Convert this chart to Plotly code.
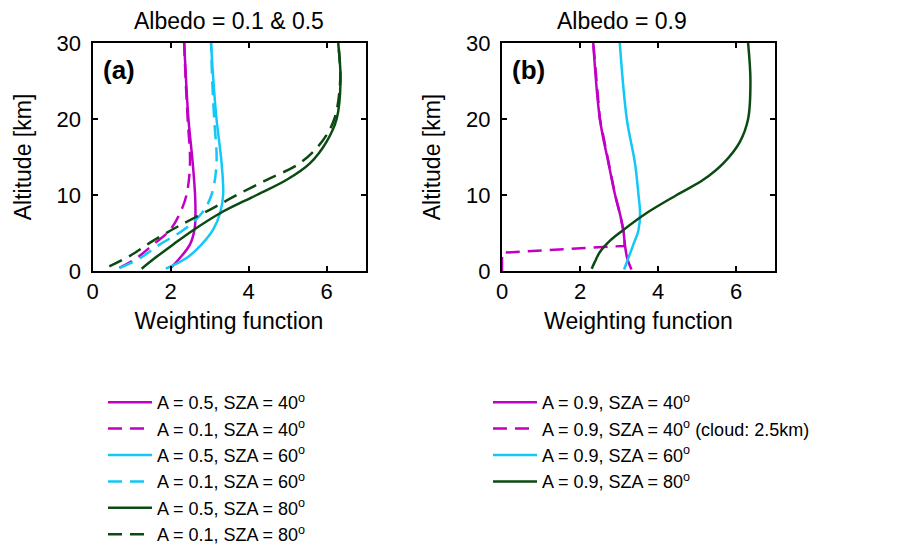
import plotly.graph_objects as go

# ---------------- data ----------------
# Panel (a): Albedo 0.1 & 0.5
alt_a05_40 = [0.3, 1.7, 3.5, 5.6, 7.6, 10, 14.2, 20, 25, 30]
wf_a05_40 = [1.99, 2.24, 2.50, 2.62, 2.64, 2.63, 2.57, 2.46, 2.40, 2.35]
alt_a01_40 = [0.4, 1.7, 3.5, 5.4, 7.6, 10, 14.2, 20, 25, 30]
wf_a01_40 = [0.69, 1.13, 1.56, 1.99, 2.24, 2.41, 2.50, 2.44, 2.39, 2.35]
alt_a05_60 = [0.3, 1.7, 3.5, 5.5, 7.6, 10, 14.2, 20, 25, 30]
wf_a05_60 = [1.88, 2.41, 2.80, 3.10, 3.27, 3.35, 3.31, 3.18, 3.10, 3.04]
alt_a01_60 = [0.4, 1.7, 3.5, 5.4, 7.6, 10, 14.2, 20, 25, 30]
wf_a01_60 = [0.70, 1.22, 1.73, 2.33, 2.80, 3.05, 3.18, 3.12, 3.07, 3.04]
alt_a05_80 = [0.3, 1.7, 3.5, 5.4, 7.6, 10, 12, 14.2, 17, 20, 25, 30]
wf_a05_80 = [1.26, 1.60, 2.07, 2.59, 3.27, 4.21, 4.98, 5.58, 6.00, 6.26, 6.36, 6.30]
alt_a01_80 = [0.6, 2, 4, 6, 8.3, 10, 12, 14.2, 17, 20, 25, 30]
wf_a01_80 = [0.43, 0.96, 1.56, 2.24, 3.10, 3.70, 4.47, 5.32, 5.88, 6.20, 6.35, 6.30]

# Panel (b): Albedo 0.9
alt_b_40 = [0.2, 1.7, 3.5, 5.4, 7.6, 10, 14.2, 20, 30]
wf_b_40 = [3.32, 3.21, 3.15, 3.11, 3.02, 2.90, 2.73, 2.51, 2.34]
alt_b_40c = [0, 2.4, 3.3, 3.5, 5.4, 7.6, 10, 14.2, 20, 30]
wf_b_40c = [0, 0, 3.12, 3.15, 3.11, 3.02, 2.90, 2.73, 2.51, 2.34]
alt_b_60 = [0.2, 1.7, 3.5, 5.4, 7.6, 10, 14.2, 20, 30]
wf_b_60 = [3.13, 3.24, 3.37, 3.50, 3.54, 3.50, 3.41, 3.20, 3.02]
alt_b_80 = [0.3, 1.2, 2.5, 4, 5.4, 7.6, 10, 12, 14.2, 17, 20, 25, 30]
wf_b_80 = [2.30, 2.38, 2.51, 2.77, 3.11, 3.70, 4.48, 5.16, 5.68, 6.10, 6.31, 6.37, 6.31]

x_ticks = [0, 2, 4, 6]
y_ticks = [0, 10, 20, 30]

MAG = "#C000C4"
CYA = "#12C8F8"
GRN = "#0B4A12"
DASH = "14px,8px"
LW = 2.5
FONT = "Liberation Sans, Arial, sans-serif"

fig = go.Figure()

def add(x, y, name, color, dash, xa, ya, legend, shape="spline"):
    fig.add_trace(go.Scatter(
        x=x, y=y, name=name, mode="lines",
        line=dict(color=color, width=LW, dash=dash, shape=shape),
        xaxis=xa, yaxis=ya, legend=legend))

add(wf_a05_40, alt_a05_40, "A = 0.5, SZA = 40<sup>o</sup>", MAG, "solid", "x", "y", "legend")
add(wf_a01_40, alt_a01_40, "A = 0.1, SZA = 40<sup>o</sup>", MAG, DASH, "x", "y", "legend")
add(wf_a05_60, alt_a05_60, "A = 0.5, SZA = 60<sup>o</sup>", CYA, "solid", "x", "y", "legend")
add(wf_a01_60, alt_a01_60, "A = 0.1, SZA = 60<sup>o</sup>", CYA, DASH, "x", "y", "legend")
add(wf_a05_80, alt_a05_80, "A = 0.5, SZA = 80<sup>o</sup>", GRN, "solid", "x", "y", "legend")
add(wf_a01_80, alt_a01_80, "A = 0.1, SZA = 80<sup>o</sup>", GRN, DASH, "x", "y", "legend")

add(wf_b_40, alt_b_40, "A = 0.9, SZA = 40<sup>o</sup>", MAG, "solid", "x2", "y2", "legend2")
add(wf_b_40c, alt_b_40c, "A = 0.9, SZA = 40<sup>o</sup> (cloud: 2.5km)", MAG, DASH, "x2", "y2", "legend2", shape="linear")
add(wf_b_60, alt_b_60, "A = 0.9, SZA = 60<sup>o</sup>", CYA, "solid", "x2", "y2", "legend2")
add(wf_b_80, alt_b_80, "A = 0.9, SZA = 80<sup>o</sup>", GRN, "solid", "x2", "y2", "legend2")

# page has an 8px body margin: work in screen pixels and convert
OFF = 8
W, H = 910 - OFF, 545 - OFF
def px(v): return (v - OFF) / W
def py(v): return (H - (v - OFF)) / H

FS = 22
TS = 23
ax_common = dict(showgrid=False, zeroline=False, showline=True, linecolor="black",
                 linewidth=2, mirror="allticks", ticks="inside", ticklen=5,
                 tickwidth=2, tickcolor="black", tickfont=dict(size=FS, color="black"),
                 automargin=False)

xa_common = dict(ax_common, range=[0, 7], tickvals=x_ticks,
                 title=dict(text="Weighting function", font=dict(size=TS, color="black"), standoff=9))
ya_common = dict(ax_common, range=[0, 30], tickvals=y_ticks, ticklabelstandoff=5,
                 title=dict(text="Altitude [km]", font=dict(size=TS, color="black"), standoff=19))

fig.update_layout(
    width=W, height=H,
    margin=dict(l=0, r=0, t=0, b=0, autoexpand=False),
    paper_bgcolor="white", plot_bgcolor="white",
    font=dict(family=FONT, size=FS, color="black"),
    xaxis=dict(xa_common, domain=[px(92.5), px(365.5)], anchor="y"),
    yaxis=dict(ya_common, domain=[py(271), py(43)], anchor="x"),
    xaxis2=dict(xa_common, domain=[px(502), px(775)], anchor="y2"),
    yaxis2=dict(ya_common, domain=[py(271), py(43)], anchor="x2"),
    legend=dict(x=px(103), y=py(384), xanchor="left", yanchor="top",
                bgcolor="rgba(0,0,0,0)", font=dict(size=18, color="black"),
                tracegroupgap=0, itemwidth=44),
    legend2=dict(x=px(488), y=py(384), xanchor="left", yanchor="top",
                 bgcolor="rgba(0,0,0,0)", font=dict(size=18, color="black"),
                 tracegroupgap=0, itemwidth=44),
    annotations=[
        dict(text="Albedo = 0.1 & 0.5", x=px(229), y=py(21), xref="paper", yref="paper",
             showarrow=False, font=dict(size=TS, color="black"), xanchor="center", yanchor="middle"),
        dict(text="Albedo = 0.9", x=px(622), y=py(21), xref="paper", yref="paper",
             showarrow=False, font=dict(size=TS, color="black"), xanchor="center", yanchor="middle"),
        dict(text="<b>(a)</b>", x=px(101), y=py(70), xref="paper", yref="paper",
             showarrow=False, font=dict(size=26, color="black"), xanchor="left", yanchor="middle"),
        dict(text="<b>(b)</b>", x=px(510), y=py(70), xref="paper", yref="paper",
             showarrow=False, font=dict(size=26, color="black"), xanchor="left", yanchor="middle"),
    ],
)

fig.write_html("out.html")
